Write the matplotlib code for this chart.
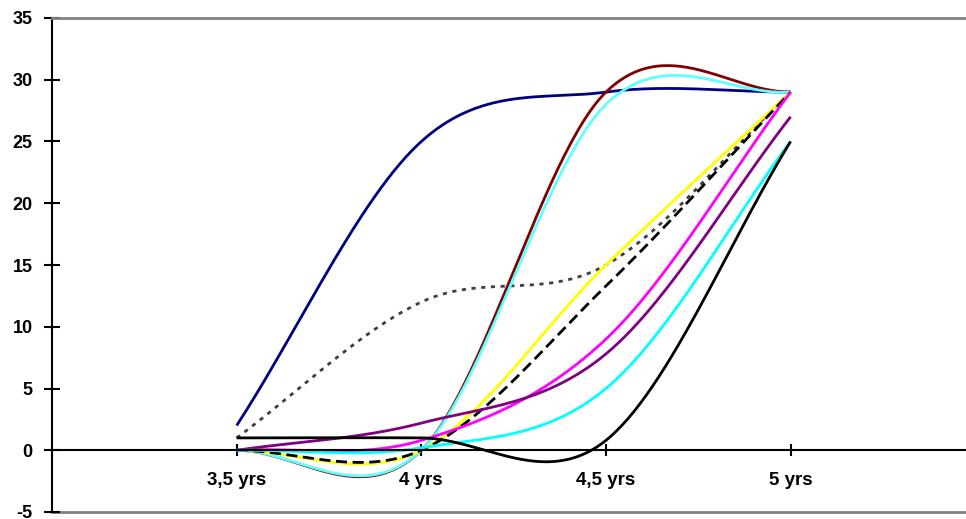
import numpy as np
import matplotlib
matplotlib.use('Agg')
import matplotlib.pyplot as plt

# category labels
categorias = ['3,5 yrs', '4 yrs', '4,5 yrs', '5 yrs']

# series values
azul_marinho = [2, 25, 29, 29]
cinza_pontilhado = [1, 12, 15, 29]
vermelho_escuro = [0, 0, 29, 29]
ciano_claro = [0, 0, 28, 29]
amarelo = [0, 0, 15, 29]
preto_tracejado = [0, 0, 13.3, 29]
magenta = [0, 0.8, 9, 29]
roxo = [0, 2.2, 7.8, 27]
ciano = [0, 0.2, 5, 25]
preto = [1, 1, 0.8, 25]

yticks = list(range(-5, 36, 5))


def suavizar(valores, n=60):
    # curva suave tipo Excel (Bezier / Catmull-Rom)
    y = np.array(valores, dtype=float)
    x = np.arange(1, len(y) + 1, dtype=float)
    m = len(y)
    tang = np.zeros(m)
    for i in range(m):
        if i == 0:
            tang[i] = y[1] - y[0]
        elif i == m - 1:
            tang[i] = y[-1] - y[-2]
        else:
            tang[i] = (y[i + 1] - y[i - 1]) / 2
    xs, ys = [], []
    t = np.linspace(0, 1, n)
    for i in range(m - 1):
        p0 = y[i]
        p1 = y[i] + tang[i] / 3
        p2 = y[i + 1] - tang[i + 1] / 3
        p3 = y[i + 1]
        yy = (1 - t) ** 3 * p0 + 3 * (1 - t) ** 2 * t * p1 + 3 * (1 - t) * t ** 2 * p2 + t ** 3 * p3
        xx = x[i] + t
        xs.extend(xx)
        ys.extend(yy)
    return np.array(xs), np.array(ys)


fig = plt.figure(figsize=(9.66, 5.19), dpi=100)
ax = fig.add_axes([52 / 966, 7 / 519, (966 - 52) / 966, (512 - 18) / 519])

lw = 2.0
series = [
    (azul_marinho, '#000080', '-'),
    (cinza_pontilhado, '#404040', (0, (1.5, 2))),
    (vermelho_escuro, '#800000', '-'),
    (ciano_claro, '#60FFFF', '-'),
    (amarelo, '#FFFF00', '-'),
    (preto_tracejado, '#000000', (0, (4, 2))),
    (magenta, '#FF00FF', '-'),
    (roxo, '#800080', '-'),
    (ciano, '#00FFFF', '-'),
    (preto, '#000000', '-'),
]
for valores, cor, estilo in series:
    xs, ys = suavizar(valores)
    ax.plot(xs, ys, color=cor, linestyle=estilo, linewidth=lw, solid_capstyle='butt')

ax.set_xlim(0, 4.95)
ax.set_ylim(-5, 35)

ax.spines['right'].set_visible(False)
ax.spines['top'].set_color('#808080')
ax.spines['top'].set_linewidth(2)
ax.spines['left'].set_linewidth(1.5)
ax.spines['bottom'].set_position(('data', 0))
ax.spines['bottom'].set_linewidth(1.5)
ax.axhline(-5, color='#808080', linewidth=2, clip_on=False, zorder=0)

ax.set_yticks(yticks, labels=[str(v) for v in yticks])
ax.set_xticks(range(1, len(categorias) + 1), labels=categorias)
ax.tick_params(axis='y', direction='inout', length=12, width=1.5, pad=8)
ax.tick_params(axis='x', direction='inout', length=9, width=1.5, pad=11)

for lab in ax.get_yticklabels():
    lab.set_fontfamily('Liberation Sans')
    lab.set_fontweight('bold')
    lab.set_fontsize(13)
for lab in ax.get_xticklabels():
    lab.set_fontfamily('Liberation Sans')
    lab.set_fontweight('bold')
    lab.set_fontsize(13.5)

fig.savefig('out.png', dpi=100)
